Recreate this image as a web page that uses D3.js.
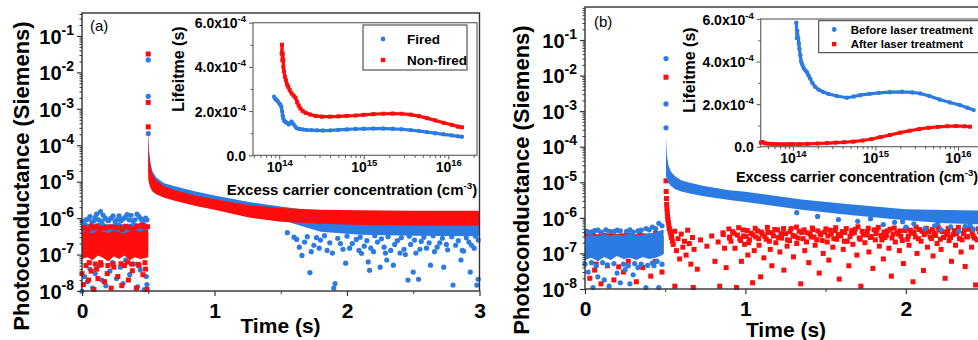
<!DOCTYPE html>
<html>
<head>
<meta charset="utf-8">
<script src="https://cdn.jsdelivr.net/npm/d3@7"></script>
<style>
  body { margin: 0; background: #fff; }
  svg { display: block; font-family: "Liberation Sans", Arial, sans-serif; }
</style>
</head>
<body>
<div id="chart"></div>
<script>
// ---------- panel (a): photoconductance vs time ----------
// dense decay bands (upper / lower edge of the point cloud)
const bandTimeA   = [0.500, 0.505, 0.515, 0.53, 0.56, 0.62, 0.70, 0.85, 1.0, 1.25, 1.5, 1.8, 2.1, 2.5, 3.0];
const firedHiA    = [2.1e-4, 8e-5, 3.5e-5, 2e-5, 1.3e-5, 9e-6, 7.5e-6, 5.5e-6, 4.2e-6, 2.8e-6, 2.1e-6, 1.5e-6, 1.2e-6, 1e-6, 9e-7];
const firedLoA    = [2e-5, 1.4e-5, 1.1e-5, 8e-6, 6.5e-6, 5.2e-6, 4.2e-6, 3.2e-6, 2.5e-6, 1.6e-6, 9e-7, 4.2e-7, 3.5e-7, 3.3e-7, 3.2e-7];
const nonfiredHiA = [3.2e-4, 7e-5, 3e-5, 1.6e-5, 1.1e-5, 7.5e-6, 5.8e-6, 4.2e-6, 3.3e-6, 2.3e-6, 1.9e-6, 1.7e-6, 1.65e-6, 1.6e-6, 1.6e-6];
const nonfiredLoA = [1.2e-5, 9e-6, 7e-6, 5.5e-6, 4.5e-6, 3.6e-6, 3e-6, 2.2e-6, 1.7e-6, 1.05e-6, 8e-7, 7e-7, 6.5e-7, 6.3e-7, 6.3e-7];

// noise before the pulse (core of the cloud)
const preTimeA    = [0, 0.04, 0.08, 0.12, 0.16, 0.2, 0.24, 0.28, 0.32, 0.36, 0.4, 0.44, 0.48, 0.5];
const firedPreHiA = [6.5e-7, 7e-7, 6.5e-7, 7.5e-7, 7.5e-7, 6.5e-7, 7e-7, 7.5e-7, 6.5e-7, 7e-7, 7.5e-7, 7e-7, 7.5e-7, 6.5e-7];
const firedPreLoA = [1.1e-7, 1.2e-7, 1.1e-7, 1.3e-7, 1.2e-7, 1.1e-7, 1.2e-7, 1.3e-7, 1.1e-7, 1.2e-7, 1.1e-7, 1.2e-7, 1.3e-7, 1.2e-7];
const nonfiredPreHiA = [4e-7, 4.3e-7, 3.7e-7, 4.5e-7, 4.2e-7, 3.9e-7, 4.6e-7, 4.1e-7, 3.8e-7, 4.4e-7, 4.7e-7, 4.2e-7, 4.8e-7, 4.3e-7];
const nonfiredPreLoA = [7.5e-8, 8.5e-8, 7e-8, 9.5e-8, 8e-8, 6.5e-8, 9e-8, 7.5e-8, 9.5e-8, 7e-8, 8.5e-8, 7.5e-8, 8e-8, 8.5e-8];

// individual points [time, value]
const firedSpikeA = [[0.5, 2.2e-2], [0.5, 2.2e-3], [0.5, 2.1e-4]];
const nonfiredSpikeA = [[0.5, 3.2e-2], [0.5, 1.5e-3], [0.5, 3.2e-4]];
const firedPointsA = [
  [0.03, 9e-7], [0.06, 1.1e-6], [0.09, 8.5e-7], [0.11, 1.3e-6], [0.14, 1.5e-6], [0.16, 1.2e-6], [0.19, 9e-7],
  [0.22, 1e-6], [0.25, 8e-7], [0.28, 1.15e-6], [0.31, 9.5e-7], [0.34, 1.25e-6], [0.37, 1.2e-6], [0.4, 9e-7],
  [0.43, 1.1e-6], [0.46, 8.5e-7], [0.48, 1e-6], [0.01, 5e-7],
  [0.005, 8e-7], [0.025, 6.5e-7], [0.05, 9.5e-7], [0.075, 7.5e-7], [0.1, 1.05e-6], [0.125, 9e-7], [0.15, 8e-7],
  [0.175, 1e-6], [0.2, 8.5e-7], [0.235, 1.15e-6], [0.265, 9e-7], [0.295, 8.5e-7], [0.325, 1.05e-6], [0.355, 9e-7],
  [0.385, 8.5e-7], [0.415, 1.3e-6], [0.445, 9.5e-7], [0.49, 9e-7],
  [0.0, 1e-8], [0.02, 2.5e-8], [0.04, 1.8e-8], [0.06, 4e-8], [0.08, 1.2e-8], [0.1, 3e-8], [0.13, 5e-8],
  [0.15, 2e-8], [0.18, 1.4e-8], [0.21, 3.5e-8], [0.23, 6e-8], [0.26, 2.2e-8], [0.29, 4.5e-8], [0.31, 1.6e-8],
  [0.33, 7e-8], [0.36, 2.8e-8], [0.39, 5.5e-8], [0.42, 1.3e-8], [0.44, 3.8e-8], [0.47, 1.1e-8], [0.49, 1.5e-8],
  [0.485, 2.5e-8],
  [1.66, 9.5e-8], [1.72, 3.2e-8], [1.91, 1.6e-8], [1.90, 1.2e-8], [1.99, 5.8e-8], [2.11, 1.07e-7], [2.16, 6.3e-8],
  [2.17, 3.7e-8], [2.46, 2e-8], [2.54, 2.1e-8], [2.80, 1.45e-8], [2.98, 1.45e-8], [2.99, 2.1e-8], [2.93, 3.3e-8],
  [2.50, 3.3e-8], [2.63, 5.1e-8], [2.73, 4.5e-8], [2.30, 7.1e-8], [2.35, 5.1e-8], [2.25, 4.5e-8], [2.86, 7.1e-8],
  [2.40, 1.1e-7], [1.75, 1.8e-7], [1.8, 2.5e-7], [1.85, 1.3e-7], [1.95, 2e-7], [2.02, 1.5e-7], [2.07, 2.6e-7],
  [2.13, 1.7e-7], [2.2, 1.2e-7], [2.23, 2.2e-7], [2.28, 1.6e-7], [2.33, 1.3e-7], [2.38, 2.4e-7], [2.43, 1.4e-7],
  [2.48, 1.9e-7], [2.52, 1.1e-7], [2.56, 2.3e-7], [2.6, 1.5e-7], [2.66, 1.2e-7], [2.7, 2.1e-7], [2.76, 1.35e-7],
  [2.82, 1.8e-7], [2.88, 1.25e-7], [2.92, 2.2e-7], [2.96, 1.5e-7], [1.6, 3e-7], [1.55, 4e-7], [1.68, 2.2e-7],
  [1.62, 2.6e-7], [1.64, 1.6e-7], [1.7, 3.1e-7], [1.73, 1.2e-7], [1.77, 2.9e-7], [1.79, 1.5e-7], [1.83, 3.3e-7],
  [1.87, 2.1e-7], [1.89, 1.1e-7], [1.93, 2.8e-7], [1.97, 1.4e-7], [2.0, 3.2e-7], [2.04, 2.0e-7], [2.09, 1.3e-7],
  [2.1, 3.0e-7], [2.15, 2.4e-7], [2.18, 1.5e-7], [2.21, 3.3e-7], [2.26, 2.7e-7], [2.29, 1.1e-7], [2.31, 3.1e-7],
  [2.36, 1.9e-7], [2.41, 2.9e-7], [2.44, 1.0e-7], [2.47, 3.2e-7], [2.51, 2.5e-7], [2.55, 1.4e-7], [2.58, 3.0e-7],
  [2.62, 2.1e-7], [2.65, 3.3e-7], [2.68, 1.6e-7], [2.72, 2.8e-7], [2.75, 1.9e-7], [2.79, 3.1e-7], [2.84, 2.4e-7],
  [2.87, 1.3e-7], [2.9, 2.9e-7], [2.94, 1.8e-7], [2.97, 3.2e-7], [2.99, 2.5e-7]
];
const nonfiredPointsA = [
  [0.0, 3e-8], [0.01, 1.5e-8], [0.03, 5e-8], [0.05, 2e-8], [0.07, 3.5e-8], [0.09, 1.1e-8], [0.11, 4e-8],
  [0.12, 2.2e-8], [0.14, 6e-8], [0.17, 1.8e-8], [0.19, 3e-8], [0.22, 1.2e-8], [0.24, 4.5e-8], [0.27, 2.5e-8],
  [0.3, 1.4e-8], [0.32, 5e-8], [0.35, 2e-8], [0.38, 3.6e-8], [0.41, 1.2e-8], [0.43, 5e-8], [0.46, 2.8e-8],
  [0.48, 4e-8], [0.49, 1.1e-8],
  [0.02, 5.5e-7], [0.07, 6e-7], [0.13, 5e-7], [0.18, 5.5e-7], [0.26, 5.5e-7], [0.33, 6e-7], [0.39, 5e-7], [0.45, 6.5e-7],
  [0.015, 5.2e-7], [0.045, 4.9e-7], [0.055, 6e-8], [0.085, 5.4e-7], [0.1, 5.5e-8], [0.115, 5.8e-7], [0.145, 5.2e-8],
  [0.155, 5.3e-7], [0.195, 5e-8], [0.21, 5.8e-7], [0.235, 5.5e-8], [0.245, 5.6e-7], [0.285, 5.4e-7], [0.295, 5.6e-8],
  [0.305, 4.9e-7], [0.345, 6.2e-8], [0.355, 5.5e-7], [0.375, 5.5e-8], [0.415, 5.9e-7], [0.425, 5.4e-8], [0.465, 5.7e-7],
  [0.475, 6e-8], [0.495, 5.8e-7]
];

// ---------- panel (b): before / after laser treatment ----------
const bandTimeB = [0.505, 0.51, 0.52, 0.535, 0.56, 0.6, 0.66, 0.75, 0.9, 1.0, 1.35, 1.65, 2.0, 2.25, 2.5];
const beforeHiB = [1.8e-4, 6e-5, 3e-5, 2e-5, 1.5e-5, 1.15e-5, 9.5e-6, 7.8e-6, 6e-6, 5.4e-6, 3.3e-6, 2.4e-6, 1.75e-6, 1.65e-6, 1.6e-6];
const beforeLoB = [1.5e-5, 1.2e-5, 9.5e-6, 8e-6, 6.5e-6, 5.5e-6, 4.8e-6, 4e-6, 3.2e-6, 2.8e-6, 1.7e-6, 1.2e-6, 8.5e-7, 7e-7, 6.5e-7];

const preTimeB = [0, 0.04, 0.08, 0.12, 0.16, 0.2, 0.24, 0.28, 0.32, 0.36, 0.4, 0.44, 0.47, 0.49];
const beforePreHiB = [3e-7, 3.3e-7, 3.1e-7, 3.5e-7, 3.2e-7, 3.4e-7, 3.3e-7, 3.6e-7, 3.2e-7, 3.4e-7, 3.7e-7, 3.9e-7, 4.4e-7, 4.6e-7];
const beforePreLoB = [6.5e-8, 7.5e-8, 6e-8, 8e-8, 6.5e-8, 8.5e-8, 7e-8, 7.5e-8, 6.5e-8, 8e-8, 7e-8, 7.5e-8, 8.5e-8, 9.5e-8];
const afterPreHiB  = [3.3e-7, 3.7e-7, 3.4e-7, 3.8e-7, 3.5e-7, 3.6e-7, 3.7e-7, 3.8e-7, 3.4e-7, 3.7e-7, 3.6e-7, 3.5e-7, 3.4e-7, 3e-7];
const afterPreLoB  = [7e-8, 8e-8, 6.5e-8, 8.5e-8, 7e-8, 9e-8, 7.5e-8, 8e-8, 7e-8, 8.5e-8, 7.5e-8, 8e-8, 9e-8, 1e-7];

const beforePointsB = [
  [0.505, 3e-2], [0.505, 1.6e-3], [0.505, 3.4e-4],
  [0.02, 4e-7], [0.08, 4.5e-7], [0.15, 4.2e-7], [0.22, 4.3e-7], [0.3, 4e-7], [0.38, 5e-7], [0.42, 5.5e-7],
  [0.46, 7e-7], [0.48, 6e-7],
  [0.01, 4.2e-7], [0.035, 3.9e-7], [0.06, 4.4e-7], [0.1, 4e-7], [0.13, 4.6e-7], [0.18, 4.1e-7], [0.2, 4.5e-7],
  [0.26, 4.2e-7], [0.28, 4.6e-7], [0.33, 4.3e-7], [0.35, 4.5e-7], [0.4, 4.6e-7], [0.44, 5e-7],
  [0.0, 5e-8], [0.04, 5.5e-8], [0.07, 4.5e-8], [0.11, 5.5e-8], [0.14, 4.8e-8], [0.18, 5.2e-8], [0.24, 5e-8],
  [0.27, 4.5e-8], [0.31, 5.2e-8], [0.35, 5e-8], [0.39, 4.6e-8], [0.42, 5.4e-8], [0.45, 6e-8], [0.48, 5e-8],
  [0.02, 3e-8], [0.05, 1.1e-8], [0.08, 2.2e-8], [0.12, 1.8e-8], [0.15, 1.2e-8], [0.2, 2.8e-8], [0.22, 1.5e-8],
  [0.25, 3.5e-8], [0.28, 1.4e-8], [0.3, 2.5e-8], [0.33, 4e-8], [0.38, 1.1e-8], [0.43, 4.5e-8], [0.46, 1.1e-8],
  [1.32, 1.4e-6], [1.45, 1.1e-6], [1.58, 9e-7], [1.7, 8e-7], [1.78, 9.5e-7], [1.86, 6.5e-7], [1.93, 7.5e-7],
  [2.0, 5.5e-7], [2.05, 6.8e-7], [2.12, 5e-7], [2.18, 6e-7], [2.22, 4.6e-7], [2.28, 5.6e-7], [2.33, 4.2e-7],
  [2.37, 5.8e-7], [2.42, 4.8e-7], [2.46, 5.3e-7], [2.2, 7.2e-7], [1.98, 7.8e-7], [2.4, 6.2e-7]
];
const afterPointsB = [
  [0.505, 9e-3], [0.505, 1.1e-5], [0.506, 5.5e-6], [0.508, 3.5e-6], [0.509, 2.4e-6], [0.511, 1.8e-6],
  [0.513, 1.4e-6], [0.515, 1.1e-6], [0.517, 9e-7], [0.52, 7.5e-7], [0.523, 6e-7], [0.526, 5e-7], [0.53, 4.2e-7],
  [0.534, 3.6e-7], [0.538, 2.8e-7], [0.545, 2.2e-7],
  [0.01, 3.6e-7], [0.05, 4e-7], [0.1, 3.8e-7], [0.17, 4e-7], [0.26, 3.7e-7], [0.34, 3.9e-7], [0.44, 3.7e-7],
  [0.03, 2e-8], [0.07, 5e-8], [0.1, 1.4e-8], [0.14, 4.5e-8], [0.18, 1.8e-8], [0.24, 3e-8], [0.27, 6e-8],
  [0.32, 1.6e-8], [0.36, 4e-8], [0.41, 2.3e-8], [0.44, 6e-8], [0.48, 3e-8], [0.06, 3.4e-8], [0.21, 4.2e-8],
  [0.54, 3.0e-7], [0.55, 1.8e-7], [0.56, 4.2e-7], [0.56, 1.2e-8], [0.57, 1.2e-7], [0.58, 2.6e-7], [0.59, 7e-8],
  [0.60, 3.5e-7], [0.61, 1.5e-7], [0.62, 2.2e-7], [0.63, 9e-8], [0.64, 4.5e-7], [0.65, 1.9e-7], [0.66, 5e-8],
  [0.67, 2.8e-7], [0.675, 1.1e-8], [0.68, 1.3e-7], [0.70, 3.6e-8], [0.72, 2.4e-7], [0.76, 1.6e-7], [0.79, 3.1e-7],
  [0.81, 6e-8], [0.83, 2.1e-7], [0.84, 1.2e-8], [0.86, 3.8e-7], [0.87, 1.4e-7], [0.88, 4e-8], [0.90, 2.7e-7],
  [0.91, 2.2e-7], [0.92, 4.1e-7], [0.935, 1.4e-7], [0.945, 1.1e-8], [0.95, 3.3e-7], [0.965, 2.6e-7], [0.975, 6e-8],
  [0.985, 4.6e-7], [0.995, 1.8e-7], [1.005, 3.0e-7], [1.015, 9e-8], [1.025, 2.4e-7], [1.035, 3.7e-7], [1.045, 1.5e-8],
  [1.055, 1.2e-7], [1.065, 2.9e-7], [1.075, 4.3e-7], [1.085, 1.7e-7], [1.095, 2.2e-8], [1.105, 3.5e-7], [1.115, 7.5e-8],
  [1.13, 2.5e-7], [1.14, 3.9e-7], [1.155, 1.3e-7], [1.165, 4.5e-8], [1.175, 3.1e-7], [1.19, 2.0e-7], [1.2, 4.6e-7],
  [1.215, 1.1e-7], [1.225, 2.7e-7], [1.24, 3.4e-8], [1.25, 3.6e-7], [1.26, 1.6e-7], [1.275, 2.3e-7], [1.285, 5e-7],
  [1.3, 8e-8], [1.31, 3.0e-7], [1.32, 1.9e-7], [1.335, 4.2e-7], [1.345, 1.4e-8], [1.36, 2.6e-7], [1.37, 1.2e-7],
  [1.385, 3.8e-7], [1.395, 5.5e-8], [1.41, 2.9e-7], [1.42, 4.7e-7], [1.435, 1.7e-7], [1.445, 2.4e-7], [1.46, 2.8e-8],
  [1.47, 3.3e-7], [1.485, 1.0e-7], [1.495, 4.0e-7], [1.51, 2.1e-7], [1.52, 6.5e-8], [1.535, 3.5e-7], [1.545, 1.5e-7],
  [1.56, 4.4e-7], [1.57, 2.5e-7], [1.585, 1.9e-8], [1.595, 3.1e-7], [1.61, 1.3e-7], [1.62, 3.9e-7], [1.635, 2.2e-7],
  [1.645, 4.5e-8], [1.66, 3.6e-7], [1.67, 1.8e-7], [1.685, 4.8e-7], [1.695, 9e-8], [1.71, 2.7e-7], [1.72, 1.2e-8],
  [1.735, 3.4e-7], [1.745, 2.0e-7], [1.76, 4.1e-7], [1.77, 1.1e-7], [1.785, 3.0e-7], [1.795, 3.8e-8], [1.81, 2.4e-7],
  [1.82, 4.6e-7], [1.835, 1.6e-7], [1.845, 3.2e-7], [1.86, 7e-8], [1.87, 2.8e-7], [1.885, 4.3e-7], [1.895, 1.4e-7],
  [1.91, 2.3e-8], [1.92, 3.5e-7], [1.935, 2.1e-7], [1.945, 4.0e-7], [1.96, 1.2e-7], [1.97, 3.0e-7], [1.985, 5.2e-8],
  [1.995, 4.4e-7], [2.01, 2.5e-7], [2.02, 1.7e-7], [2.035, 3.7e-7], [2.045, 1.6e-8], [2.06, 2.9e-7], [2.07, 1.0e-7],
  [2.085, 4.7e-7], [2.095, 2.2e-7], [2.11, 3.3e-8], [2.12, 3.6e-7], [2.135, 1.5e-7], [2.145, 4.1e-7], [2.16, 2.6e-7],
  [2.17, 8.5e-8], [2.185, 3.2e-7], [2.195, 1.9e-7], [2.21, 4.5e-7], [2.22, 1.3e-7], [2.235, 2.8e-7], [2.245, 2.0e-8],
  [2.26, 3.9e-7], [2.27, 2.3e-7], [2.285, 6e-8], [2.295, 3.4e-7], [2.31, 1.7e-7], [2.32, 4.2e-7], [2.335, 2.6e-7],
  [2.345, 1.1e-7], [2.36, 3.6e-7], [2.37, 4.3e-8], [2.385, 2.9e-7], [2.395, 4.8e-7], [2.41, 1.5e-7], [2.42, 3.1e-7],
  [2.435, 1.3e-8], [2.445, 2.4e-7], [2.46, 4.0e-7], [2.47, 9.5e-8], [2.485, 3.3e-7], [2.495, 2.0e-7],
  [0.862, 3.4e-7], [0.897, 4.9e-7], [0.903, 2.9e-7], [0.928, 3.7e-7], [0.958, 5.3e-7], [0.971, 2.3e-7], [0.989, 3.1e-7],
  [1.012, 4.4e-7], [1.021, 2.0e-7], [1.048, 3.3e-7], [1.061, 5.1e-7], [1.083, 2.6e-7], [1.099, 4.0e-7], [1.121, 3.0e-7],
  [1.137, 5.4e-7], [1.149, 2.2e-7], [1.168, 3.8e-7], [1.183, 4.7e-7], [1.207, 2.8e-7], [1.221, 3.6e-7], [1.238, 5.0e-7],
  [1.262, 2.4e-7], [1.279, 4.1e-7], [1.297, 3.2e-7], [1.318, 5.5e-7], [1.329, 2.7e-7], [1.352, 3.9e-7], [1.366, 4.6e-7],
  [1.381, 2.1e-7], [1.403, 3.5e-7], [1.417, 5.2e-7], [1.428, 2.9e-7], [1.451, 4.3e-7], [1.466, 3.7e-7], [1.479, 2.3e-7],
  [1.502, 4.9e-7], [1.514, 3.1e-7], [1.529, 4.5e-7], [1.551, 2.6e-7], [1.563, 5.3e-7], [1.578, 3.4e-7], [1.603, 4.1e-7],
  [1.617, 2.2e-7], [1.629, 5.0e-7], [1.652, 3.0e-7], [1.664, 4.4e-7], [1.679, 3.8e-7], [1.702, 5.6e-7], [1.716, 2.5e-7],
  [1.728, 4.2e-7], [1.752, 3.3e-7], [1.766, 5.1e-7], [1.779, 2.8e-7], [1.803, 4.6e-7], [1.814, 3.6e-7], [1.829, 5.4e-7],
  [1.851, 2.4e-7], [1.864, 4.0e-7], [1.879, 3.2e-7], [1.902, 4.8e-7], [1.914, 2.7e-7], [1.928, 5.2e-7], [1.953, 3.5e-7],
  [1.966, 4.3e-7], [1.978, 2.3e-7], [2.003, 5.0e-7], [2.016, 3.1e-7], [2.028, 4.5e-7], [2.052, 3.9e-7], [2.064, 5.5e-7],
  [2.079, 2.6e-7], [2.101, 4.2e-7], [2.114, 3.4e-7], [2.128, 5.1e-7], [2.152, 2.9e-7], [2.166, 4.7e-7], [2.178, 3.7e-7],
  [2.203, 5.3e-7], [2.215, 2.5e-7], [2.228, 4.1e-7], [2.252, 3.3e-7], [2.264, 5.0e-7], [2.279, 2.8e-7], [2.302, 4.4e-7],
  [2.316, 3.6e-7], [2.328, 5.4e-7], [2.351, 2.4e-7], [2.366, 4.6e-7], [2.379, 3.0e-7], [2.402, 5.2e-7], [2.414, 3.8e-7],
  [2.428, 2.7e-7], [2.452, 4.9e-7], [2.466, 3.2e-7], [2.479, 4.3e-7]
];

// ---------- insets: lifetime vs excess carrier concentration ----------
const firedLife = [
  [8.7e13, 2.65e-4], [9.0e13, 2.55e-4], [9.3e13, 2.5e-4], [9.6e13, 2.45e-4], [1.0e14, 2.35e-4], [1.03e14, 2.3e-4],
  [1.06e14, 2.2e-4], [1.08e14, 2.0e-4], [1.1e14, 1.8e-4], [1.12e14, 1.65e-4], [1.15e14, 1.55e-4], [1.2e14, 1.5e-4],
  [1.25e14, 1.45e-4], [1.3e14, 1.4e-4], [1.35e14, 1.45e-4], [1.4e14, 1.52e-4], [1.47e14, 1.42e-4], [1.55e14, 1.3e-4],
  [1.62e14, 1.22e-4], [1.75e14, 1.19e-4], [1.9e14, 1.17e-4], [2.1e14, 1.15e-4], [2.4e14, 1.14e-4], [2.8e14, 1.13e-4],
  [3.3e14, 1.12e-4], [4e14, 1.13e-4], [5e14, 1.15e-4], [6.3e14, 1.17e-4], [8e14, 1.19e-4], [1e15, 1.2e-4],
  [1.3e15, 1.21e-4], [1.7e15, 1.21e-4], [2.2e15, 1.2e-4], [2.8e15, 1.18e-4], [3.6e15, 1.14e-4], [4.5e15, 1.1e-4],
  [5.6e15, 1.05e-4], [7e15, 1.0e-4], [8.8e15, 0.95e-4], [1.1e16, 0.9e-4], [1.3e16, 0.86e-4], [1.45e16, 0.84e-4]
];
const nonfiredLife = [
  [1.08e14, 5.0e-4], [1.07e14, 4.6e-4], [1.1e14, 4.6e-4], [1.09e14, 4.3e-4], [1.12e14, 4.3e-4], [1.12e14, 4.0e-4],
  [1.14e14, 3.8e-4], [1.17e14, 3.55e-4], [1.2e14, 3.4e-4], [1.24e14, 3.2e-4], [1.28e14, 3.1e-4], [1.33e14, 2.95e-4],
  [1.4e14, 2.8e-4], [1.48e14, 2.7e-4], [1.56e14, 2.6e-4], [1.63e14, 2.4e-4], [1.7e14, 2.25e-4], [1.78e14, 2.12e-4],
  [1.9e14, 2.0e-4], [2.05e14, 1.92e-4], [2.3e14, 1.85e-4], [2.7e14, 1.78e-4], [3.2e14, 1.75e-4], [4e14, 1.75e-4],
  [5e14, 1.76e-4], [6.3e14, 1.78e-4], [8e14, 1.8e-4], [1e15, 1.83e-4], [1.3e15, 1.86e-4], [1.7e15, 1.88e-4],
  [2.2e15, 1.89e-4], [2.8e15, 1.88e-4], [3.6e15, 1.84e-4], [4.5e15, 1.77e-4], [5.6e15, 1.68e-4], [7e15, 1.58e-4],
  [8.8e15, 1.47e-4], [1.1e16, 1.38e-4], [1.3e16, 1.3e-4], [1.45e16, 1.27e-4]
];
const beforeLife = [
  [1.1e14, 5.83e-4], [1.13e14, 5.45e-4], [1.12e14, 5.1e-4], [1.16e14, 5.1e-4], [1.18e14, 4.85e-4], [1.2e14, 4.6e-4],
  [1.23e14, 4.3e-4], [1.26e14, 4.0e-4], [1.3e14, 3.85e-4], [1.35e14, 3.7e-4], [1.41e14, 3.6e-4], [1.48e14, 3.5e-4],
  [1.55e14, 3.35e-4], [1.62e14, 3.2e-4], [1.72e14, 3.0e-4], [1.86e14, 2.82e-4], [2.05e14, 2.68e-4], [2.3e14, 2.58e-4],
  [2.7e14, 2.48e-4], [3.4e14, 2.38e-4], [4.5e14, 2.3e-4], [5.5e14, 2.36e-4], [6.5e14, 2.42e-4], [8.5e14, 2.48e-4],
  [1.1e15, 2.53e-4], [1.5e15, 2.56e-4], [2.1e15, 2.58e-4], [2.8e15, 2.55e-4], [3.5e15, 2.5e-4], [4.5e15, 2.38e-4],
  [6e15, 2.22e-4], [8e15, 2.08e-4], [1.05e16, 1.96e-4], [1.3e16, 1.83e-4], [1.55e16, 1.72e-4]
];
const afterLife = [
  [4.1e13, 1.9e-5], [4.3e13, 2.2e-5], [4.6e13, 1.6e-5], [5e13, 1.4e-5], [5.6e13, 1.3e-5], [6.3e13, 1.2e-5],
  [7.1e13, 1.15e-5], [8e13, 1.15e-5], [9e13, 1.2e-5], [1e14, 1.2e-5], [1.2e14, 1.25e-5], [1.5e14, 1.35e-5],
  [2e14, 1.5e-5], [2.6e14, 1.7e-5], [3.3e14, 1.9e-5], [4.2e14, 2.1e-5], [5.4e14, 2.4e-5], [7e14, 2.9e-5],
  [9e14, 3.6e-5], [1.15e15, 4.5e-5], [1.5e15, 5.5e-5], [2e15, 6.6e-5], [2.6e15, 7.5e-5], [3.4e15, 8.3e-5],
  [4.4e15, 8.9e-5], [5.7e15, 9.3e-5], [7.4e15, 9.6e-5], [9.5e15, 9.7e-5], [1.2e16, 9.6e-5], [1.4e16, 9.4e-5]
];

const BLUE = '#2b7be2';
const RED = '#ff0d0d';
const AXIS = '#333';

const svg = d3.select('#chart').append('svg').attr('width', 978).attr('height', 340);

// "10" style label with a raised exponent
function supLabel(sel, base, exp, size) {
  sel.text(null);
  sel.append('tspan').text(base);
  sel.append('tspan').attr('font-size', size).attr('dy', -Math.round(size * 0.62)).text(exp);
}

function band(x, y, ts, hi, lo, color) {
  const area = d3.area()
    .x((d, i) => x(ts[i]))
    .y0((d, i) => y(lo[i]))
    .y1((d, i) => y(hi[i]));
  svg.append('path').datum(ts).attr('d', area).attr('fill', color);
}

function dots(x, y, pts, color, shape, s) {
  const g = svg.append('g').attr('fill', color);
  if (shape === 'circle') {
    g.selectAll('circle').data(pts).join('circle')
      .attr('cx', d => x(d[0])).attr('cy', d => y(d[1])).attr('r', s);
  } else {
    g.selectAll('rect').data(pts).join('rect')
      .attr('x', d => x(d[0]) - s).attr('y', d => y(d[1]) - s)
      .attr('width', 2 * s).attr('height', 2 * s);
  }
}

function mainScales(o) {
  const x = d3.scaleLinear().domain([0, o.tMax]).range([o.left, o.right]);
  const y = d3.scaleLog().domain([1e-8, o.yTop]).range([o.bottom, o.top]);
  return { x, y };
}

function mainAxes(o, x, y) {
  const decades = d3.range(-8, 0).map(e => Math.pow(10, e));
  const minors = [];
  d3.range(-8, 0).forEach(e => {
    for (let k = 2; k < 10; k++) {
      const v = k * Math.pow(10, e);
      if (v <= o.yTop) minors.push(v);
    }
  });

  svg.append('rect')
    .attr('x', o.left).attr('y', o.top)
    .attr('width', o.right - o.left).attr('height', o.bottom - o.top)
    .attr('fill', 'none').attr('stroke', AXIS).attr('stroke-width', 1.4);

  // y axis (log)
  const gy = svg.append('g').attr('transform', `translate(${o.left},0)`)
    .call(d3.axisLeft(y).tickValues(decades).tickSize(5).tickPadding(3).tickSizeOuter(0));
  gy.select('.domain').remove();
  gy.attr('font-size', 20).attr('font-family', null).attr('font-weight', 'bold');
  gy.selectAll('.tick line').attr('stroke', AXIS).attr('stroke-width', 1.2);
  gy.selectAll('.tick text').attr('fill', '#000').attr('dy', '0.36em')
    .each(function (d) { supLabel(d3.select(this), '10', String(Math.round(Math.log10(d))), 14); });
  const gym = svg.append('g').attr('transform', `translate(${o.left},0)`)
    .call(d3.axisLeft(y).tickValues(minors).tickSize(2.5).tickFormat(''));
  gym.select('.domain').remove();
  gym.selectAll('.tick line').attr('stroke', AXIS);

  // x axis
  const gx = svg.append('g').attr('transform', `translate(0,${o.bottom})`)
    .call(d3.axisBottom(x).tickValues(o.xTicks).tickSize(5).tickPadding(7).tickSizeOuter(0).tickFormat(d3.format('d')));
  gx.select('.domain').remove();
  gx.attr('font-size', 21).attr('font-family', null).attr('font-weight', 'bold');
  gx.selectAll('.tick line').attr('stroke', AXIS).attr('stroke-width', 1.2);
  gx.selectAll('.tick text').attr('fill', '#000');
  const gxm = svg.append('g').attr('transform', `translate(0,${o.bottom})`)
    .call(d3.axisBottom(x).tickValues(o.xMinor).tickSize(3).tickFormat(''));
  gxm.select('.domain').remove();
  gxm.selectAll('.tick line').attr('stroke', AXIS);

  svg.append('text').attr('x', o.xTitleX).attr('y', o.xTitleY)
    .attr('text-anchor', 'middle').attr('font-size', 21).attr('font-weight', 'bold')
    .text('Time (s)');
  svg.append('text')
    .attr('transform', `translate(${o.yTitleX},${o.yTitleY}) rotate(-90)`)
    .attr('text-anchor', 'middle').attr('font-size', 22).attr('font-weight', 'bold')
    .text('Photoconductance (Siemens)');
  svg.append('text').attr('x', o.tagX).attr('y', o.tagY)
    .attr('font-size', 15).text(o.tag);
}

function insetPanel(o) {
  const x = d3.scaleLog().domain(o.xDom).range([o.left, o.right]);
  const y = d3.scaleLinear().domain([0, 6e-4]).range([o.bottom, o.top]);

  svg.append('rect')
    .attr('x', o.left).attr('y', o.top)
    .attr('width', o.right - o.left).attr('height', o.bottom - o.top)
    .attr('fill', '#fff').attr('stroke', '#666').attr('stroke-width', 1.2);

  const line = d3.line().x(d => x(d[0])).y(d => y(d[1]));
  o.series.forEach(s => {
    const pts = s.data.slice().sort((a, b) => a[0] - b[0]);
    svg.append('path').datum(pts).attr('d', line)
      .attr('fill', 'none').attr('stroke', s.color).attr('stroke-width', 3.2);
    dots(x, y, s.data, s.color, s.shape, s.shape === 'circle' ? 2.2 : 2);
  });

  // y axis
  const gy = svg.append('g').attr('transform', `translate(${o.left},0)`)
    .call(d3.axisLeft(y).tickValues([0, 2e-4, 4e-4, 6e-4]).tickSize(4).tickPadding(3).tickSizeOuter(0));
  gy.select('.domain').remove();
  gy.attr('font-size', 14).attr('font-family', null).attr('font-weight', 'bold');
  gy.selectAll('.tick line').attr('stroke', '#555');
  gy.selectAll('.tick text').attr('fill', '#000').attr('dy', '0.36em')
    .each(function (d) {
      if (d === 0) d3.select(this).text('0.0');
      else supLabel(d3.select(this), (d / 1e-4).toFixed(1) + 'x10', '-4', 9.5);
    });
  const gym = svg.append('g').attr('transform', `translate(${o.left},0)`)
    .call(d3.axisLeft(y).tickValues([1e-4, 3e-4, 5e-4]).tickSize(2.5).tickFormat(''));
  gym.select('.domain').remove();
  gym.selectAll('.tick line').attr('stroke', '#555');

  // x axis (log)
  const majors = [1e14, 1e15, 1e16];
  const minors = [];
  [13, 14, 15, 16].forEach(e => {
    for (let k = 2; k < 10; k++) {
      const v = k * Math.pow(10, e);
      if (v >= o.xDom[0] && v <= o.xDom[1]) minors.push(v);
    }
  });
  const gx = svg.append('g').attr('transform', `translate(0,${o.bottom})`)
    .call(d3.axisBottom(x).tickValues(majors).tickSize(4).tickPadding(3).tickSizeOuter(0));
  gx.select('.domain').remove();
  gx.attr('font-size', 14).attr('font-family', null).attr('font-weight', 'bold');
  gx.selectAll('.tick line').attr('stroke', '#555');
  gx.selectAll('.tick text').attr('fill', '#000').attr('y', o.xLabelDy).attr('dy', 0)
    .each(function (d) { supLabel(d3.select(this), '10', String(Math.round(Math.log10(d))), 9.5); });
  const gxm = svg.append('g').attr('transform', `translate(0,${o.bottom})`)
    .call(d3.axisBottom(x).tickValues(minors).tickSize(2.5).tickFormat(''));
  gxm.select('.domain').remove();
  gxm.selectAll('.tick line').attr('stroke', '#555');

  const xt = svg.append('text').attr('x', o.xTitleX).attr('y', o.xTitleY)
    .attr('text-anchor', 'middle').attr('font-size', o.xTitleSize).attr('font-weight', 'bold');
  xt.append('tspan').text('Excess carrier concentration (cm');
  xt.append('tspan').attr('font-size', o.xTitleSize * 0.66).attr('dy', -6).text('-3');
  xt.append('tspan').attr('dy', 6).text(')');

  svg.append('text')
    .attr('transform', `translate(${o.yTitleX},${o.yTitleY}) rotate(-90)`)
    .attr('text-anchor', 'middle').attr('font-size', 16).attr('font-weight', 'bold')
    .text('Lifeitme (s)');

  // legend
  const L = o.legend;
  svg.append('rect').attr('x', L.x).attr('y', L.y).attr('width', L.w).attr('height', L.h)
    .attr('fill', '#fff').attr('stroke', '#333').attr('stroke-width', 1);
  o.series.forEach((s, i) => {
    const cy = L.y + L.first + i * L.step;
    if (s.shape === 'circle') {
      svg.append('circle').attr('cx', L.x + L.mark).attr('cy', cy).attr('r', 2.4).attr('fill', s.color);
    } else {
      svg.append('rect').attr('x', L.x + L.mark - 2.2).attr('y', cy - 2.2)
        .attr('width', 4.4).attr('height', 4.4).attr('fill', s.color);
    }
    svg.append('text').attr('x', L.x + L.text).attr('y', cy).attr('dy', '0.36em')
      .attr('font-size', L.size).attr('font-weight', 'bold').text(s.name);
  });
}

// ---------- panel (a) ----------
const pa = {
  left: 82, right: 479.5, top: 13, bottom: 291, tMax: 3, yTop: Math.pow(10, -0.37),
  xTicks: [0, 1, 2, 3], xMinor: [0.5, 1.5, 2.5],
  xTitleX: 280.5, xTitleY: 333, yTitleX: 29, yTitleY: 176, tag: '(a)', tagX: 90, tagY: 31
};
const A = mainScales(pa);
band(A.x, A.y, preTimeA, firedPreHiA, firedPreLoA, BLUE);
band(A.x, A.y, bandTimeA, firedHiA, firedLoA, BLUE);
dots(A.x, A.y, firedSpikeA.concat(firedPointsA), BLUE, 'circle', 2.6);
band(A.x, A.y, preTimeA, nonfiredPreHiA, nonfiredPreLoA, RED);
band(A.x, A.y, bandTimeA, nonfiredHiA, nonfiredLoA, RED);
dots(A.x, A.y, nonfiredSpikeA.concat(nonfiredPointsA), RED, 'square', 2.5);
mainAxes(pa, A.x, A.y);

insetPanel({
  left: 253, right: 477, top: 22.7, bottom: 155.3, xDom: [Math.pow(10, 13.69), Math.pow(10, 16.34)],
  xLabelDy: 17, xTitleX: 352, xTitleY: 195, xTitleSize: 15, yTitleX: 184, yTitleY: 69,
  series: [
    { name: 'Fired', data: firedLife, color: BLUE, shape: 'circle' },
    { name: 'Non-fired', data: nonfiredLife, color: RED, shape: 'square' }
  ],
  legend: { x: 363, y: 25, w: 104, h: 45, first: 14, step: 21, mark: 20, text: 44, size: 13.5 }
});

// ---------- panel (b) ----------
const pb = {
  left: 585, right: 986, top: 7, bottom: 289, tMax: 2.5, yTop: Math.pow(10, -0.072),
  xTicks: [0, 1, 2], xMinor: [0.5, 1.5, 2.5],
  xTitleX: 786, xTitleY: 337, yTitleX: 529, yTitleY: 180, tag: '(b)', tagX: 594, tagY: 27
};
const B = mainScales(pb);
band(B.x, B.y, preTimeB, afterPreHiB, afterPreLoB, RED);
dots(B.x, B.y, afterPointsB, RED, 'square', 2.5);
band(B.x, B.y, preTimeB, beforePreHiB, beforePreLoB, BLUE);
band(B.x, B.y, bandTimeB, beforeHiB, beforeLoB, BLUE);
dots(B.x, B.y, beforePointsB, BLUE, 'circle', 2.6);
mainAxes(pb, B.x, B.y);

insetPanel({
  left: 760.7, right: 986, top: 19, bottom: 146.7, xDom: [Math.pow(10, 13.61), Math.pow(10, 16.34)],
  xLabelDy: 16, xTitleX: 857, xTitleY: 182, xTitleSize: 14.5, yTitleX: 695, yTitleY: 70,
  series: [
    { name: 'Before laser treatment', data: beforeLife, color: BLUE, shape: 'circle' },
    { name: 'After laser treatment', data: afterLife, color: RED, shape: 'square' }
  ],
  legend: { x: 818.7, y: 20.7, w: 175, h: 32, first: 8.8, step: 14.6, mark: 15.5, text: 32, size: 11.5 }
});
</script>
</body>
</html>
